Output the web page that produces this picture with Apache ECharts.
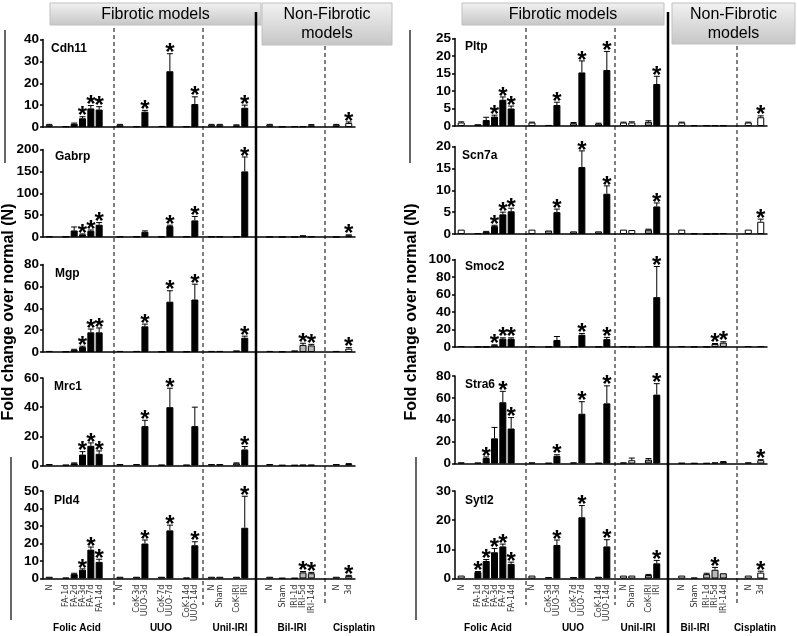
<!DOCTYPE html>
<html>
<head>
<meta charset="utf-8">
<script src="https://cdn.jsdelivr.net/npm/echarts@6/dist/echarts.min.js"></script>
<style>
  html, body { margin: 0; background: #fff; }
  #chart { width: 797px; height: 636px; }
</style>
</head>
<body>
<div id="chart"></div>
<script>
// categories shown under each panel
var categories = ['N', 'FA-1d', 'FA-2d', 'FA-3d', 'FA-7d', 'FA-14d',
  'N', 'CoK-3d', 'UUO-3d', 'CoK-7d', 'UUO-7d', 'CoK-14d', 'UUO-14d',
  'N', 'Sham', 'CoK-IRI', 'IRI',
  'N', 'Sham', 'IRI-1d', 'IRI-5d', 'IRI-14d',
  'N', '3d'];
var groups = ['Folic Acid', 'UUO', 'Unil-IRI', 'Bil-IRI', 'Cisplatin'];

// left column
var cdh11 = [1, 0.3, 1.5, 4, 8.5, 8, 1, 0.3, 7, 0.5, 25.5, 0.3, 10.5, 1, 1, 0.8, 8.8, 1, 0.2, 0.3, 0.3, 0.8, 1, 1.8];
var cdh11Err = [0.2, 0, 0.3, 0.7, 1.3, 1.3, 0.2, 0, 0.6, 0, 8, 0, 3.3, 0.2, 0.2, 0.2, 1.2, 0.2, 0, 0, 0, 0.3, 0.2, 0.5];
var cdh11Sig = [3, 4, 5, 8, 10, 12, 16, 23];

var gabrp = [1, 1, 15, 6, 14, 28, 1, 1, 12, 1, 25, 1, 38, 1, 1, 1, 150, 0.5, 0.3, 0.5, 2, 1, 0.5, 4];
var gabrpErr = [0, 0, 8, 1, 2, 5, 0, 0, 2, 0, 2, 0, 9, 0, 0, 0, 33, 0, 0, 0, 1, 0, 0, 1];
var gabrpSig = [3, 4, 5, 10, 12, 16, 23];

var mgp = [1, 0.5, 2, 4.5, 18, 18, 1, 1, 23.5, 0.5, 46, 0.5, 48, 1, 1, 1.5, 13, 1, 0.5, 1.5, 6.5, 6, 1, 3];
var mgpErr = [0, 0, 0.5, 0.8, 3, 4, 0, 0, 2, 0, 10, 0, 14, 0, 0, 0, 1.5, 0, 0, 0, 1.5, 1, 0, 1];
var mgpSig = [3, 4, 5, 8, 10, 12, 16, 20, 21, 23];

var mrc1 = [1, 0.5, 1.5, 7.5, 13.5, 8, 1, 1, 27, 0.5, 40, 0.5, 27, 1, 1, 1.5, 11, 1, 0.3, 0.3, 0.5, 0.5, 1, 1];
var mrc1Err = [0, 0, 0.3, 2, 2, 2, 0, 0, 4, 0, 13, 0, 13, 0, 0, 0.3, 2, 0, 0, 0, 0, 0, 0, 0.3];
var mrc1Sig = [3, 4, 5, 8, 10, 16];

var pld4 = [1, 0.5, 2.5, 5, 16.5, 9.5, 1, 1, 20, 1, 27.5, 0.5, 19, 1, 1, 1, 29, 1, 0.3, 0.3, 3.5, 3, 1, 1.5];
var pld4Err = [0, 0, 0.5, 0.5, 1.5, 1.5, 0, 0, 2, 0, 3, 0, 2, 0, 0, 0, 18, 0, 0, 0, 0.5, 0.5, 0, 0.3];
var pld4Sig = [3, 4, 5, 8, 10, 12, 16, 20, 21, 23];

// right column
var pltp = [1, 0.5, 1.7, 2.7, 7.5, 5, 1, 0.3, 6, 0.8, 15.3, 0.7, 16, 1, 1, 1.2, 12, 1, 0.2, 0.2, 0.2, 0.2, 1, 2.5];
var pltpErr = [0.2, 0, 0.8, 0.4, 0.8, 0.7, 0.1, 0, 0.8, 0.2, 3.3, 0.1, 5.3, 0.1, 0.2, 0.3, 2.2, 0.1, 0, 0, 0, 0, 0.1, 0.4];
var pltpSig = [3, 4, 5, 8, 10, 12, 16, 23];

var scn7a = [1, 0.2, 0.5, 1.8, 4.5, 5.2, 1, 0.8, 5, 0.6, 15.3, 0.6, 9.2, 1, 0.9, 1, 6.3, 1, 0.1, 0, 0.1, 0.2, 1, 2.8];
var scn7aErr = [0, 0, 0.1, 0.2, 0.5, 0.7, 0, 0, 0.7, 0, 3.7, 0, 1.8, 0, 0, 0.1, 0.8, 0, 0, 0, 0, 0, 0, 0.6];
var scn7aSig = [3, 4, 5, 8, 10, 12, 16, 23];

var smoc2 = [1, 0.3, 0.3, 2, 9.5, 9.5, 1, 0.5, 8, 0.5, 14, 0.5, 9, 1, 0.5, 1, 57, 1, 0.3, 0.3, 3.5, 5, 1, 1];
var smoc2Err = [0, 0, 0, 0.5, 1, 1, 0, 0, 4, 0, 1.5, 0, 2, 0, 0, 0, 35, 0, 0, 0, 0.5, 1, 0, 0];
var smoc2Sig = [3, 4, 5, 10, 12, 16, 20, 21];

var stra6 = [1, 0.8, 5, 23, 56, 32, 1, 0.5, 7, 1, 45.5, 0.5, 55, 1, 3, 3.5, 63, 0.5, 0.3, 0.3, 1, 1.5, 1, 3];
var stra6Err = [0, 0, 1, 10, 10, 10, 0, 0, 1, 0, 11, 0, 16, 0, 2, 1, 10, 0, 0, 0, 0, 0.3, 0, 0.5];
var stra6Sig = [2, 4, 5, 8, 10, 12, 16, 23];

var sytl2 = [1, 2.2, 6, 9, 11, 5, 1, 0.5, 11.5, 0.5, 21, 0.6, 11, 1, 1, 1.2, 5.2, 1, 0.3, 1.5, 3, 1.8, 1, 2];
var sytl2Err = [0, 0.2, 0.5, 1.3, 0.8, 0.6, 0, 0, 1.7, 0, 4, 0, 2.3, 0, 0, 0.2, 1, 0, 0, 0.3, 0.8, 0, 0, 0.5];
var sytl2Sig = [1, 2, 3, 4, 5, 8, 10, 12, 16, 20, 23];

var panels = [
  { gene: 'Cdh11', v: cdh11, e: cdh11Err, s: cdh11Sig, max: 40, step: 10 },
  { gene: 'Gabrp', v: gabrp, e: gabrpErr, s: gabrpSig, max: 200, step: 50 },
  { gene: 'Mgp', v: mgp, e: mgpErr, s: mgpSig, max: 80, step: 20 },
  { gene: 'Mrc1', v: mrc1, e: mrc1Err, s: mrc1Sig, max: 60, step: 20 },
  { gene: 'Pld4', v: pld4, e: pld4Err, s: pld4Sig, max: 50, step: 10 },
  { gene: 'Pltp', v: pltp, e: pltpErr, s: pltpSig, max: 25, step: 5 },
  { gene: 'Scn7a', v: scn7a, e: scn7aErr, s: scn7aSig, max: 20, step: 5 },
  { gene: 'Smoc2', v: smoc2, e: smoc2Err, s: smoc2Sig, max: 100, step: 20 },
  { gene: 'Stra6', v: stra6, e: stra6Err, s: stra6Sig, max: 80, step: 20 },
  { gene: 'Sytl2', v: sytl2, e: sytl2Err, s: sytl2Sig, max: 30, step: 10 }
];

// layout: half-step slot of each category along the axis (Prism style gaps)
var slotPos = [0, 4, 6, 8, 10, 12, 17, 21, 23, 27, 29, 33, 35, 39, 41, 45, 47, 53, 56, 59, 61, 63, 69, 72];
var nSlots = 75;
var colLeft = [43, 455];
var gridW = 312;
var rowTop = [[39.5, 149.5, 264.5, 378, 491], [38.5, 146.5, 259.5, 376, 491]];
var gridH = 87.5;

var axisCats = [];
for (var k = 0; k < nSlots; k++) axisCats.push('');
categories.forEach(function (c, i) { axisCats[slotPos[i] + 1] = c; });

function barColor(i) {
  var c = categories[i];
  if (c === 'N' || c === 'Sham' || c === '3d') return '#fff';
  if (c.indexOf('CoK') === 0) return '#8c8c8c';
  if (c.indexOf('IRI-') === 0) return '#b8b8b8';
  return '#000';
}

var grids = [], xAxes = [], yAxes = [], series = [];
panels.forEach(function (p, pi) {
  var col = pi < 5 ? 0 : 1, row = pi % 5;
  grids.push({ left: colLeft[col], width: gridW, top: rowTop[col][row], height: gridH });
  xAxes.push({
    gridIndex: pi, type: 'category', data: axisCats,
    axisLine: { lineStyle: { color: '#000', width: 1.5 } },
    axisTick: { alignWithLabel: true, length: 4, lineStyle: { color: '#000', width: 1 },
      interval: function (idx, val) { return val !== ''; } },
    axisLabel: row === 4 ? {
      interval: 0, rotate: 90, fontSize: 9, color: '#333', margin: 6,
      fontFamily: '"Liberation Sans Narrow", "DejaVu Sans Condensed", Arial'
    } : { show: false }
  });
  yAxes.push({
    gridIndex: pi, type: 'value', min: 0, max: p.max, interval: p.step,
    splitLine: { show: false },
    axisLine: { show: true, lineStyle: { color: '#000', width: 1.5 } },
    axisTick: { show: true, length: 3, lineStyle: { color: '#000', width: 1.5 } },
    axisLabel: { fontWeight: 'bold', fontSize: 13.5, color: '#000', margin: 4, fontFamily: 'Arial' }
  });
  var barData = [];
  for (var k = 0; k < nSlots; k++) barData.push('-');
  var errData = [];
  p.v.forEach(function (val, i) {
    barData[slotPos[i] + 1] = { value: val, itemStyle: { color: barColor(i) } };
    errData.push([slotPos[i] + 1, val, p.e[i], p.s.indexOf(i) >= 0 ? 1 : 0]);
  });
  series.push({
    type: 'bar', xAxisIndex: pi, yAxisIndex: pi, data: barData, barWidth: 7,
    itemStyle: { borderColor: '#000', borderWidth: 1 }
  });
  series.push({
    type: 'custom', xAxisIndex: pi, yAxisIndex: pi, data: errData, z: 5,
    renderItem: function (params, api) {
      var x = api.value(0), v = api.value(1), e = api.value(2), s = api.value(3);
      var top = api.coord([x, v + e]);
      var base = api.coord([x, v]);
      var ch = [];
      if (e > 0) {
        ch.push({ type: 'line', shape: { x1: base[0], y1: base[1], x2: top[0], y2: top[1] },
          style: { stroke: '#000', lineWidth: 1 } });
        ch.push({ type: 'line', shape: { x1: top[0] - 3, y1: top[1], x2: top[0] + 3, y2: top[1] },
          style: { stroke: '#000', lineWidth: 1 } });
      }
      if (s) {
        ch.push({ type: 'text', style: { text: '*', x: top[0], y: top[1] + 12, align: 'center',
          verticalAlign: 'bottom', font: 'bold 24px Arial', fill: '#000' } });
      }
      return { type: 'group', children: ch };
    }
  });
});

// decorations
var graphics = [];
function header(x1, x2, y2, lines, ys) {
  graphics.push({ type: 'rect', shape: { x: x1, y: 3, width: x2 - x1, height: y2 - 3 },
    style: { fill: new echarts.graphic.LinearGradient(0, 0, 0, 1,
      [{ offset: 0, color: '#f2f2f2' }, { offset: 1, color: '#c6c6c6' }]), stroke: '#c0c0c0', lineWidth: 1 } });
  lines.forEach(function (t, i) {
    graphics.push({ type: 'text', x: (x1 + x2) / 2, y: ys[i],
      style: { text: t, font: '16px Arial', fill: '#000', align: 'center', verticalAlign: 'middle' } });
  });
}
header(50, 261, 25, ['Fibrotic models'], [15]);
header(262, 392, 45, ['Non-Fibrotic', 'models'], [15, 34]);
header(462, 664, 25, ['Fibrotic models'], [15]);
header(672, 795, 44, ['Non-Fibrotic', 'models'], [15, 34]);

function vline(x, y1, y2, w, dash) {
  graphics.push({ type: 'line', shape: { x1: x, y1: y1, x2: x, y2: y2 },
    style: { stroke: '#000', lineWidth: w, lineDash: dash || null } });
}
[[114, 203, 325, 256], [526, 615, 737, 668]].forEach(function (xs) {
  vline(xs[0], 28, 605, 1, [4, 3]);
  vline(xs[1], 28, 605, 1, [4, 3]);
  vline(xs[2], 46, 605, 1, [4, 3]);
  vline(xs[3], 12, 633, 2.5);
});
vline(5, 30, 163, 1.2); vline(11, 457, 620, 1.2);
vline(410, 30, 163, 1.2); vline(416, 457, 620, 1.2);

[[9, 312], [412, 312]].forEach(function (pt) {
  graphics.push({ type: 'text', x: pt[0], y: pt[1], rotation: Math.PI / 2,
    style: { text: 'Fold change over normal (N)', font: 'bold 16px Arial', fill: '#000',
      align: 'center', verticalAlign: 'middle' } });
});

var geneXY = [[51, 49], [55, 157], [55, 274], [54, 387], [54, 501],
  [465, 47], [462, 156], [465, 267], [465, 385], [465, 501]];
panels.forEach(function (p, i) {
  graphics.push({ type: 'text', x: geneXY[i][0], y: geneXY[i][1],
    style: { text: p.gene, font: 'bold 12px Arial', fill: '#000', align: 'left', verticalAlign: 'middle' } });
});

var groupX = [[77, 161, 230, 292, 354], [488, 573, 638, 695, 755]];
groupX.forEach(function (xs) {
  groups.forEach(function (g, i) {
    graphics.push({ type: 'text', x: xs[i], y: 628,
      style: { text: g, font: 'bold 10px Arial', fill: '#000', align: 'center', verticalAlign: 'middle' } });
  });
});

var myChart = echarts.init(document.getElementById('chart'));
myChart.setOption({
  animation: false,
  grid: grids,
  xAxis: xAxes,
  yAxis: yAxes,
  series: series,
  graphic: graphics
});
</script>
</body>
</html>
